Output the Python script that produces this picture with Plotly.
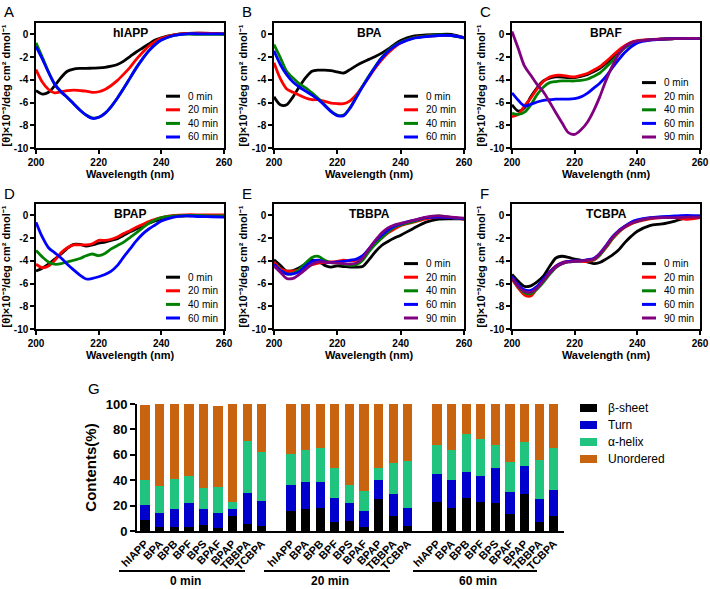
import plotly.graph_objects as go

# ---------------- data: CD spectra ----------------
WL = [200, 202, 204, 206, 208, 210, 212, 214, 216, 218, 220, 222, 224, 226, 228,
      230, 232, 234, 236, 238, 240, 244, 248, 252, 256, 260]

TIMES_4 = ["0 min", "20 min", "40 min", "60 min"]
TIMES_5 = ["0 min", "20 min", "40 min", "60 min", "90 min"]
LINE_COLORS = ["#000000", "#FF0000", "#008000", "#0000FF", "#800080"]

HIAPP_0 = [-4.95, -5.25, -5.1, -4.5, -3.8, -3.25, -3.05, -3.0, -3.0, -2.97, -2.95, -2.9, -2.8, -2.65, -2.35,
           -1.95, -1.55, -1.2, -0.85, -0.5, -0.3, -0.05, 0.08, 0.1, 0.08, 0.05]
HIAPP_20 = [-3.1, -4.2, -4.85, -5.15, -5.05, -4.95, -4.9, -4.95, -5.0, -5.1, -5.05, -4.85, -4.5, -4.05, -3.5,
            -2.9, -2.2, -1.6, -1.05, -0.65, -0.35, -0.05, 0.08, 0.1, 0.08, 0.05]
HIAPP_40 = [-0.75, -2.0, -3.3, -4.4, -5.05, -5.55, -6.1, -6.65, -7.1, -7.35, -7.3, -6.95, -6.35, -5.6, -4.75,
            -3.85, -2.95, -2.15, -1.45, -0.9, -0.5, -0.1, 0.02, 0.0, 0.0, 0.0]
HIAPP_60 = [-1.05, -2.15, -3.35, -4.4, -5.05, -5.55, -6.1, -6.65, -7.1, -7.4, -7.3, -6.95, -6.35, -5.6, -4.75,
            -3.85, -2.95, -2.15, -1.45, -0.9, -0.5, -0.1, 0.05, 0.05, 0.05, 0.05]

BPA_0 = [-5.5, -6.2, -6.2, -5.5, -4.6, -3.8, -3.25, -3.15, -3.15, -3.2, -3.3, -3.4, -3.1, -2.75, -2.45,
         -2.2, -1.95, -1.65, -1.3, -0.9, -0.55, -0.15, -0.05, 0.0, 0.0, -0.3]
BPA_20 = [-2.5, -3.9, -4.8, -5.1, -5.35, -5.6, -5.75, -5.75, -5.9, -6.05, -6.1, -6.1, -5.85, -5.3, -4.55,
          -3.75, -2.95, -2.25, -1.65, -1.15, -0.75, -0.3, -0.15, -0.1, -0.1, -0.3]
BPA_40 = [-0.9, -2.05, -3.25, -3.85, -4.35, -4.7, -5.15, -5.65, -6.2, -6.75, -7.1, -7.1, -6.45, -5.5, -4.55,
          -3.65, -2.8, -2.05, -1.45, -1.0, -0.7, -0.3, -0.15, -0.05, -0.1, -0.3]
BPA_60 = [-1.45, -2.65, -3.55, -4.2, -4.65, -5.0, -5.35, -5.75, -6.25, -6.8, -7.15, -7.15, -6.5, -5.55, -4.6,
          -3.7, -2.85, -2.1, -1.5, -1.05, -0.75, -0.35, -0.2, -0.1, -0.1, -0.3]

BPAF_0 = [-6.2, -6.75, -6.45, -5.5, -4.7, -4.1, -3.85, -3.75, -3.75, -3.8, -3.8, -3.7, -3.55, -3.3, -3.0,
          -2.55, -2.05, -1.5, -1.05, -0.75, -0.6, -0.48, -0.42, -0.38, -0.36, -0.35]
BPAF_20 = [-7.25, -7.05, -6.3, -5.6, -4.8, -4.15, -3.75, -3.6, -3.6, -3.7, -3.75, -3.6, -3.45, -3.15, -2.85,
           -2.4, -1.9, -1.4, -1.0, -0.7, -0.55, -0.45, -0.4, -0.38, -0.36, -0.35]
BPAF_40 = [-6.95, -7.05, -6.85, -6.2, -5.3, -4.65, -4.25, -4.15, -4.1, -4.1, -4.1, -4.05, -3.95, -3.7, -3.4,
           -2.9, -2.35, -1.75, -1.2, -0.85, -0.62, -0.48, -0.42, -0.38, -0.36, -0.35]
BPAF_60 = [-5.15, -5.8, -6.3, -6.15, -5.95, -5.8, -5.75, -5.7, -5.7, -5.7, -5.65, -5.5, -5.2, -4.75, -4.3,
           -3.7, -2.95, -2.25, -1.6, -1.1, -0.75, -0.5, -0.42, -0.38, -0.36, -0.35]
BPAF_90 = [0.25, -1.25, -2.8, -3.6, -4.4, -5.05, -5.95, -6.9, -7.8, -8.65, -8.8, -8.4, -7.75, -6.75, -5.5,
           -4.05, -2.8, -1.75, -1.1, -0.75, -0.6, -0.48, -0.42, -0.38, -0.36, -0.35]

BPAP_0 = [-4.9, -4.65, -4.3, -3.85, -3.4, -2.9, -2.55, -2.55, -2.7, -2.6, -2.45, -2.35, -2.2, -2.05, -1.75,
          -1.45, -1.2, -0.95, -0.7, -0.5, -0.3, -0.1, -0.05, 0.0, 0.0, 0.0]
BPAP_20 = [-4.3, -4.6, -4.45, -3.95, -3.3, -2.85, -2.6, -2.6, -2.6, -2.5, -2.2, -2.2, -2.1, -1.9, -1.6,
           -1.35, -1.05, -0.8, -0.55, -0.35, -0.2, 0.0, 0.05, 0.05, 0.05, 0.05]
BPAP_40 = [-3.1, -3.65, -4.1, -4.3, -4.25, -4.1, -3.95, -3.8, -3.55, -3.4, -3.55, -3.35, -2.95, -2.65, -2.35,
           -1.95, -1.55, -1.1, -0.7, -0.4, -0.2, -0.05, 0.0, 0.0, -0.05, -0.05]
BPAP_60 = [-0.6, -1.9, -2.85, -3.3, -3.75, -4.3, -4.8, -5.25, -5.6, -5.55, -5.4, -5.2, -4.9, -4.4, -3.65,
           -2.95, -2.25, -1.65, -1.2, -0.85, -0.5, -0.15, -0.05, -0.1, -0.12, -0.15]

TBBPA_0 = [-3.9, -4.4, -4.9, -4.85, -4.6, -4.25, -3.95, -4.05, -4.4, -4.55, -4.45, -4.5, -4.55, -4.55, -4.5,
           -3.9, -3.2, -2.65, -2.3, -2.0, -1.75, -1.15, -0.6, -0.33, -0.3, -0.3]
TBBPA_20 = [-4.1, -4.7, -4.9, -4.9, -4.8, -4.6, -4.35, -4.2, -4.15, -4.1, -4.05, -3.95, -4.0, -3.95, -3.6,
            -3.0, -2.45, -2.0, -1.55, -1.2, -0.9, -0.6, -0.3, -0.15, -0.2, -0.35]
TBBPA_40 = [-4.3, -4.8, -5.15, -5.1, -4.75, -4.2, -3.7, -3.6, -3.95, -4.15, -4.2, -4.3, -4.4, -4.35, -3.95,
            -3.2, -2.55, -2.0, -1.45, -1.05, -0.85, -0.55, -0.2, -0.05, -0.2, -0.3]
TBBPA_60 = [-4.3, -4.85, -5.15, -5.15, -4.95, -4.45, -4.05, -3.95, -4.1, -4.15, -4.1, -4.05, -3.95, -3.85, -3.55,
            -2.95, -2.25, -1.75, -1.3, -0.95, -0.75, -0.45, -0.2, -0.15, -0.2, -0.3]
TBBPA_90 = [-4.45, -5.0, -5.55, -5.55, -5.2, -4.75, -4.3, -4.1, -4.1, -4.15, -4.2, -4.25, -4.3, -4.2, -3.75,
            -2.95, -2.2, -1.55, -1.1, -0.85, -0.7, -0.45, -0.15, -0.05, -0.15, -0.25]

TCBPA_0 = [-5.2, -5.8, -6.25, -6.2, -5.85, -5.35, -4.5, -3.75, -3.6, -3.7, -3.85, -3.95, -4.1, -4.25, -4.15,
           -3.85, -3.5, -3.05, -2.4, -1.85, -1.4, -0.9, -0.75, -0.5, -0.2, -0.15]
TCBPA_20 = [-5.6, -6.4, -7.0, -7.1, -6.4, -5.7, -5.0, -4.45, -4.15, -4.05, -4.0, -4.05, -4.05, -3.95, -3.5,
            -2.85, -2.1, -1.5, -1.05, -0.75, -0.55, -0.3, -0.2, -0.2, -0.35, -0.2]
TCBPA_40 = [-5.5, -6.3, -6.8, -6.9, -6.5, -5.9, -5.2, -4.6, -4.25, -4.1, -4.05, -4.0, -3.95, -3.9, -3.5,
            -2.8, -2.05, -1.45, -1.0, -0.7, -0.5, -0.25, -0.15, -0.1, -0.1, -0.05]
TCBPA_60 = [-5.35, -6.1, -6.55, -6.6, -6.25, -5.6, -5.0, -4.5, -4.2, -4.05, -4.0, -4.0, -3.9, -3.8, -3.35,
            -2.65, -1.9, -1.35, -0.95, -0.6, -0.4, -0.2, -0.12, -0.05, 0.0, -0.05]
TCBPA_90 = [-5.5, -6.25, -6.7, -6.75, -6.4, -5.75, -5.1, -4.55, -4.25, -4.1, -4.05, -4.0, -3.95, -3.85, -3.4,
            -2.7, -1.95, -1.4, -1.0, -0.7, -0.5, -0.25, -0.2, -0.2, -0.15, -0.15]

PANELS = [
    ("A", "hIAPP", [HIAPP_0, HIAPP_20, HIAPP_40, HIAPP_60]),
    ("B", "BPA", [BPA_0, BPA_20, BPA_40, BPA_60]),
    ("C", "BPAF", [BPAF_0, BPAF_20, BPAF_40, BPAF_60, BPAF_90]),
    ("D", "BPAP", [BPAP_0, BPAP_20, BPAP_40, BPAP_60]),
    ("E", "TBBPA", [TBBPA_0, TBBPA_20, TBBPA_40, TBBPA_60, TBBPA_90]),
    ("F", "TCBPA", [TCBPA_0, TCBPA_20, TCBPA_40, TCBPA_60, TCBPA_90]),
]
Y_TICKS = [0, -2, -4, -6, -8, -10]
X_TICKS = [200, 220, 240, 260]
Y_TITLE = "[θ]×10⁻³/deg cm² dmol⁻¹"
X_TITLE = "Wavelength (nm)"

# ---------------- data: secondary structure contents ----------------
COMPOUNDS = ["hIAPP", "BPA", "BPB", "BPF", "BPS", "BPAF", "BPAP", "TBBPA", "TCBPA"]
GROUPS = ["0 min", "20 min", "60 min"]
STRUCTURES = ["β-sheet", "Turn", "α-helix", "Unordered"]
STRUCT_COLORS = ["#000000", "#0000CC", "#21C47F", "#C8640F"]

BETA = [[8.5, 3.0, 3.0, 3.5, 5.0, 2.0, 11.5, 5.5, 4.0],
        [16, 17, 18, 7, 8, 3.5, 25.5, 11.5, 4],
        [23, 18.5, 26, 23, 22, 13, 29, 7, 12]]
TURN = [[12.0, 11.5, 14.5, 18.5, 12.5, 12.5, 5.5, 24.5, 20.0],
        [20, 21.5, 20.5, 19, 14, 12.5, 15, 18, 14],
        [21.5, 22, 20.5, 20.5, 28, 18, 22, 18.5, 20]]
HELIX = [[20.0, 21.0, 23.5, 21.0, 16.5, 20.0, 6.0, 40.5, 38.5],
         [24.5, 25, 26.5, 23.5, 14.5, 15.5, 9.5, 24, 37],
         [23, 23.5, 30, 29, 18, 23.5, 19, 30.5, 33.5]]
UNORDERED = [[59.0, 64.5, 59.0, 57.0, 66.0, 64.0, 77.0, 29.5, 37.5],
             [39.5, 36.5, 35, 50.5, 63.5, 68.5, 50, 46.5, 45],
             [32.5, 36, 23.5, 27.5, 32, 45.5, 30, 44, 34.5]]
CONTENT_TICKS = [0, 20, 40, 60, 80, 100]

# ---------------- layout helpers ----------------
W, H = 710, 589
FONT = "Arial, Liberation Sans, sans-serif"


def px(x):
    return x / W


def py(y):
    return 1 - y / H


COLS = [(36, 224), (274, 464), (512, 700)]
ROWS = [(23, 148), (204, 329)]

fig = go.Figure()
layout = dict(width=W, height=H, margin=dict(l=0, r=0, t=0, b=0, autoexpand=False),
              paper_bgcolor="white", plot_bgcolor="white", showlegend=False,
              font=dict(family=FONT, color="black"))
annotations = []
shapes = []

for k, (letter, title, series) in enumerate(PANELS):
    r, c = divmod(k, 3)
    left, right = COLS[c]
    top, bottom = ROWS[r]
    n = k + 1
    xname = "x" if n == 1 else f"x{n}"
    yname = "y" if n == 1 else f"y{n}"
    labels = TIMES_4 if len(series) == 4 else TIMES_5
    for i, vals in enumerate(series):
        fig.add_trace(go.Scatter(x=WL, y=vals, mode="lines", name=labels[i],
                                 line=dict(color=LINE_COLORS[i], width=2.8, shape="spline", smoothing=0.8),
                                 xaxis=xname, yaxis=yname))
    axis_common = dict(showline=True, linecolor="black", linewidth=1.5, mirror=True,
                       ticks="outside", ticklen=4, tickwidth=1.5, tickcolor="black",
                       showgrid=False, zeroline=False, automargin=False,
                       tickfont=dict(family=FONT, size=10, weight="bold"))
    layout["xaxis" if n == 1 else f"xaxis{n}"] = dict(
        axis_common, domain=[px(left), px(right)], anchor=yname, range=[200, 260],
        tickvals=X_TICKS, ticktext=[str(v) for v in X_TICKS],
        title=dict(text=X_TITLE, font=dict(family=FONT, size=11, weight="bold"), standoff=3))
    layout["yaxis" if n == 1 else f"yaxis{n}"] = dict(
        axis_common, domain=[py(bottom), py(top)], anchor=xname, range=[-10, 1],
        tickvals=Y_TICKS, ticktext=[str(v) for v in Y_TICKS],
        title=dict(text=Y_TITLE, font=dict(family=FONT, size=11, weight="bold"), standoff=2))
    # panel letter
    annotations.append(dict(text=letter, x=px(left - 34), y=py(top - 11), xref="paper", yref="paper",
                            xanchor="left", yanchor="middle", showarrow=False,
                            font=dict(family=FONT, size=15, color="black")))
    # panel title
    annotations.append(dict(text=title, x=px((left + right) / 2), y=py(top + 10), xref="paper", yref="paper",
                            xanchor="center", yanchor="middle", showarrow=False,
                            font=dict(family=FONT, size=12, weight="bold", color="black")))
    # legend
    nser = len(series)
    for i in range(nser):
        yy = bottom - 11 - (nser - 1 - i) * 13.6
        shapes.append(dict(type="line", xref="paper", yref="paper",
                           x0=px(left + 130), x1=px(left + 144), y0=py(yy), y1=py(yy),
                           line=dict(color=LINE_COLORS[i], width=3)))
        annotations.append(dict(text=labels[i], x=px(left + 150), y=py(yy), xref="paper", yref="paper",
                                xanchor="left", yanchor="middle", showarrow=False,
                                font=dict(family=FONT, size=10, color="black")))

# ---------------- bar chart G ----------------
positions = []
ticktext = []
for g in range(len(GROUPS)):
    for i, name in enumerate(COMPOUNDS):
        positions.append(g * (len(COMPOUNDS) + 1) + i)
        ticktext.append(name)

for s, (name, data) in enumerate(zip(STRUCTURES, [BETA, TURN, HELIX, UNORDERED])):
    vals = [v for grp in data for v in grp]
    fig.add_trace(go.Bar(x=positions, y=vals, name=name, width=0.64,
                         marker=dict(color=STRUCT_COLORS[s], line=dict(width=0)),
                         xaxis="x7", yaxis="y7"))

layout["barmode"] = "stack"
layout["xaxis7"] = dict(domain=[px(137), px(564)], anchor="y7", range=[-0.55, 28.7],
                        tickvals=positions, ticktext=ticktext, tickangle=-45,
                        tickfont=dict(family=FONT, size=11, weight="bold"),
                        showline=True, linecolor="black", linewidth=2, ticks="",
                        showgrid=False, zeroline=False, automargin=False)
layout["yaxis7"] = dict(domain=[py(531), py(404)], anchor="x7", range=[0, 100],
                        tickvals=CONTENT_TICKS, ticktext=[str(v) for v in CONTENT_TICKS],
                        tickfont=dict(family=FONT, size=13, weight="bold"),
                        showline=True, linecolor="black", linewidth=2, ticks="outside",
                        ticklen=5, tickwidth=2, tickcolor="black", showgrid=False, zeroline=False,
                        automargin=False,
                        title=dict(text="Contents(%)", font=dict(family=FONT, size=15, weight="bold"),
                                   standoff=5))

annotations.append(dict(text="G", x=px(86), y=py(388), xref="paper", yref="paper",
                        xanchor="left", yanchor="middle", showarrow=False,
                        font=dict(family=FONT, size=15, color="black")))

# group labels under bar chart
GROUP_SPANS = [(119, 245), (264, 390), (413, 537)]
for g, (x0, x1) in enumerate(GROUP_SPANS):
    shapes.append(dict(type="line", xref="paper", yref="paper", x0=px(x0), x1=px(x1),
                       y0=py(571), y1=py(571), line=dict(color="black", width=2)))
    annotations.append(dict(text=GROUPS[g], x=px((x0 + x1) / 2 + 3), y=py(581), xref="paper", yref="paper",
                            xanchor="center", yanchor="middle", showarrow=False,
                            font=dict(family=FONT, size=12, weight="bold", color="black")))

# bar legend
for s, name in enumerate(STRUCTURES):
    yy = 408 + s * 17
    shapes.append(dict(type="rect", xref="paper", yref="paper", x0=px(580), x1=px(597),
                       y0=py(yy - 4), y1=py(yy + 4), line=dict(width=0),
                       fillcolor=STRUCT_COLORS[s]))
    annotations.append(dict(text=name, x=px(606), y=py(yy), xref="paper", yref="paper",
                            xanchor="left", yanchor="middle", showarrow=False,
                            font=dict(family=FONT, size=12, color="black")))

layout["annotations"] = annotations
layout["shapes"] = shapes
fig.update_layout(**layout)
fig.write_html("out.html", config={"displayModeBar": False},
               post_script="document.body.style.margin='0px';document.body.style.overflow='hidden';")
